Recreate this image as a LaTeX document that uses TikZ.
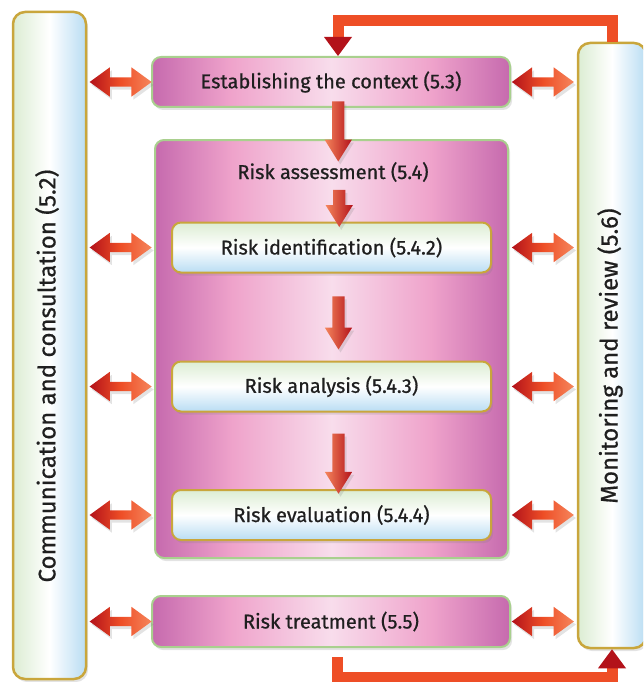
\documentclass[tikz,border=0pt]{standalone}
\usepackage{fontspec}
\setmainfont{Fira Sans}[UprightFeatures={FakeBold=0.7}]
\usetikzlibrary{shapes.arrows,shadows,arrows.meta,calc}

\definecolor{pinkdark}{HTML}{C66AAE}
\definecolor{pinkmid}{HTML}{EFA3CB}
\definecolor{pinklight}{HTML}{F8DDEC}
\definecolor{boxgreen}{HTML}{A9D08E}
\definecolor{barline}{HTML}{C9A63C}
\definecolor{palegreen}{HTML}{DCEDD3}
\definecolor{paleblue}{HTML}{B9DDF3}
\definecolor{arrdark}{HTML}{B3121A}
\definecolor{arrmid}{HTML}{EE4E26}
\definecolor{arrlight}{HTML}{F5855C}

\pgfdeclarehorizontalshading{pinkband}{100bp}{color(0bp)=(pinkdark); color(25bp)=(pinkdark);
  color(36bp)=(pinkmid); color(50bp)=(pinklight); color(64bp)=(pinkmid);
  color(75bp)=(pinkdark); color(100bp)=(pinkdark)}

\tikzset{
  shade it/.style={drop shadow={opacity=0.22,shadow xshift=2pt,shadow yshift=-3pt}},
  stage/.style={rectangle, rounded corners=9pt, draw=boxgreen, line width=2pt,
    shading=pinkband, text=black!88, shade it},
  substep/.style={rectangle, rounded corners=9pt, draw=barline, line width=2pt,
    minimum width=319pt, minimum height=50pt, top color=palegreen,
    bottom color=paleblue, middle color=white, text=black!88, shade it},
  sidebar/.style={rectangle, rounded corners=12pt, draw=barline, line width=2.5pt,
    left color=palegreen, right color=paleblue, middle color=white, shade it},
  sidetext/.style={rotate=90, text=black!88, font=\fontsize{24}{28}\selectfont},
  darrow/.style={double arrow, inner sep=4.5pt, double arrow head extend=10pt,
    double arrow tip angle=72, minimum height=62pt, left color=arrdark,
    right color=arrlight, middle color=arrmid, shade it},
  downarrow/.style={single arrow, rotate=-90, inner sep=6pt,
    single arrow head extend=7.5pt, single arrow tip angle=64,
    left color=arrlight, right color=arrdark, shade it},
  loopline/.style={draw=arrmid, line width=11pt, line join=miter,
    -{Triangle[width=28pt,length=19pt,line width=0pt,color=arrdark]}}
}

\begin{document}
\begin{tikzpicture}[x=1pt,y=-1pt,font=\fontsize{20}{24}\selectfont]
\useasboundingbox (0,0) rectangle (643,682);
\clip (0,0) rectangle (643,682);

% side bars
\node[sidebar, minimum width=73pt, minimum height=667pt] (comm) at (49.5,345.5) {};
\node[sidetext] (commtext) at (47,376) {Communication and consultation (5.2)};
\node[sidebar, minimum width=68pt, minimum height=605pt] (mon) at (612,345.5) {};
\node[sidetext] (montext) at (610,356) {Monitoring and review (5.6)};

% process
\node[stage, minimum width=358pt, minimum height=50pt] (ctx) at (331,82) {Establishing the context (5.3)};
\node[stage, minimum width=353pt, minimum height=418pt] (assess) at (331.5,349) {};
\node[text=black!88] (assesstext) at (333,172) {Risk assessment (5.4)};
\node[substep] (ident) at (331.5,247.5) {Risk identification (5.4.2)};
\node[substep] (analysis) at (331.5,386.5) {Risk analysis (5.4.3)};
\node[substep] (eval) at (331.5,515) {Risk evaluation (5.4.4)};
\node[stage, minimum width=358pt, minimum height=51pt] (treat) at (331,621.5) {Risk treatment (5.5)};

% flow down
\node[downarrow, minimum height=60pt] (d1) at ([xshift=7pt,yshift=-3pt]$(ctx.south)!0.5!(assess.north)$) {};
\node[downarrow, minimum height=37pt] (d2) at ([xshift=7pt]$(assesstext.south)!0.5!(ident.north)$) {};
\node[downarrow, minimum height=53pt] (d3) at ([xshift=7pt,yshift=-1pt]$(ident.south)!0.5!(analysis.north)$) {};
\node[downarrow, minimum height=60pt] (d4) at ([xshift=7pt,yshift=-8pt]$(analysis.south)!0.5!(eval.north)$) {};

% both ways
\foreach \n in {ctx,ident,analysis,eval,treat} {
  \node[darrow] (l\n) at ($(comm.east |- \n)!0.5!(assess.west |- \n)$) {};
  \node[darrow] (r\n) at ($(assess.east |- \n)!0.5!(mon.west |- \n)$) {};
}

% review loops
\draw[loopline] (mon.north) -- ++(0,-21) -| ([xshift=7pt]ctx.north);
\draw[loopline] ([xshift=6pt,yshift=-9pt]treat.south) -- ++(0,20) -| (mon.south);
\end{tikzpicture}
\end{document}
